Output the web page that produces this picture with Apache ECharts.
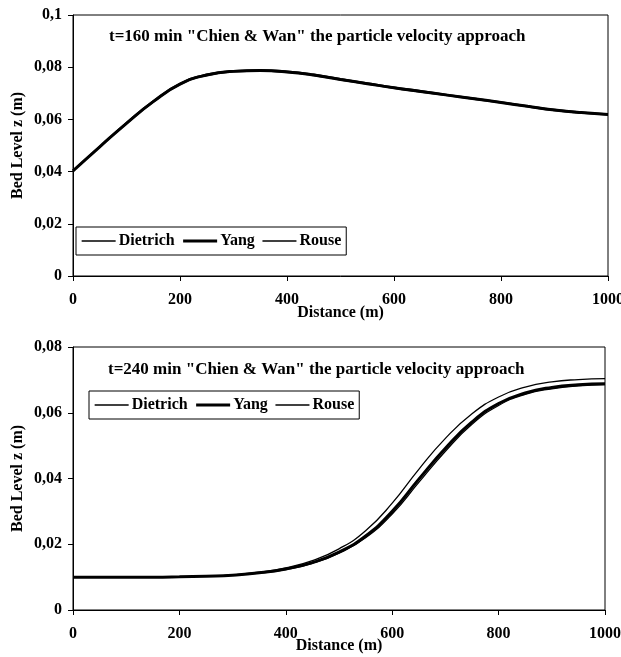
<!DOCTYPE html>
<html>
<head>
<meta charset="utf-8">
<script src="https://cdn.jsdelivr.net/npm/echarts@6/dist/echarts.min.js"></script>
<style>html,body{margin:0;padding:0;background:#fff;}#c{width:621px;height:657px;}</style>
</head>
<body>
<div id="c"></div>
<script>
var distance = [0,50,100,150,200,250,300,350,400,450,500,550,600,650,700,750,800,850,900,950,1000];
var xTicks = [0,200,400,600,800,1000];

// t = 160 min
var top_dietrich = [0.0404,0.0497,0.0588,0.0671,0.0738,0.0773,0.0787,0.0790,0.0785,0.0773,0.0756,0.0740,0.0724,0.0710,0.0695,0.0681,0.0667,0.0652,0.0638,0.0628,0.0621];
var top_yang     = [0.0403,0.0495,0.0585,0.0668,0.0735,0.0770,0.0784,0.0787,0.0782,0.0770,0.0753,0.0737,0.0721,0.0707,0.0693,0.0679,0.0665,0.0650,0.0636,0.0626,0.0619];
var top_rouse    = [0.0402,0.0494,0.0583,0.0666,0.0733,0.0768,0.0782,0.0785,0.0780,0.0768,0.0751,0.0735,0.0719,0.0705,0.0691,0.0677,0.0663,0.0648,0.0634,0.0624,0.0617];

// t = 240 min
var bot_dietrich = [0.0100,0.0100,0.0100,0.0100,0.0101,0.0103,0.0107,0.0115,0.0128,0.0150,0.0186,0.0241,0.0325,0.0428,0.0522,0.0597,0.0648,0.0678,0.0694,0.0701,0.0704];
var bot_yang     = [0.0100,0.0100,0.0100,0.0100,0.0101,0.0103,0.0106,0.0113,0.0125,0.0144,0.0176,0.0225,0.0300,0.0398,0.0492,0.0572,0.0628,0.0660,0.0677,0.0685,0.0688];
var bot_rouse    = [0.0100,0.0100,0.0100,0.0100,0.0101,0.0103,0.0106,0.0112,0.0123,0.0142,0.0173,0.0220,0.0292,0.0388,0.0483,0.0565,0.0622,0.0656,0.0673,0.0682,0.0686];

var names = ['Dietrich','Yang','Rouse'];
var lineWidths = [1.3, 3, 1.3];
var titles = ['t=160 min "Chien & Wan" the particle velocity approach','t=240 min "Chien & Wan" the particle velocity approach'];

function pairs(xs, ys){ return xs.map(function(x,i){ return [x, ys[i]]; }); }
function yfmt(v){ if (v === 0) return '0'; return String(+v.toFixed(3)).replace('.', ','); }
function xfmt(v){ return String(v); }

var FONT = 'Liberation Serif';
var txt = {color:'#000', fontFamily:FONT, fontWeight:'bold', fontSize:16};

function xAxis(gi){
  return {type:'value', gridIndex:gi, min:0, max:1000, interval:200,
    name:'Distance (m)', nameLocation:'middle', nameGap: gi===0?29:28, nameMoveOverlap:false,
    nameTextStyle:{color:'#000', fontFamily:FONT, fontWeight:'bold', fontSize:16},
    axisLine:{lineStyle:{color:'#000', width:1}},
    axisTick:{show:true, inside:false, length:5, lineStyle:{color:'#000'}},
    axisLabel:Object.assign({margin:16, formatter:xfmt}, txt),
    splitLine:{show:false}};
}
function yAxis(gi, max){
  return {type:'value', gridIndex:gi, min:0, max:max, interval:0.02,
    name:'Bed Level z (m)', nameLocation:'middle', nameGap:47, nameRotate:90, nameMoveOverlap:false,
    nameTextStyle:{color:'#000', fontFamily:FONT, fontWeight:'bold', fontSize:16},
    axisLine:{lineStyle:{color:'#000', width:1}},
    axisTick:{show:true, inside:false, length:5, lineStyle:{color:'#000'}},
    axisLabel:Object.assign({margin:11, formatter:yfmt}, txt),
    splitLine:{show:false}};
}
function ser(name, gi, data, w){
  return {name:name, type:'line', xAxisIndex:gi, yAxisIndex:gi, data:pairs(distance, data),
    smooth:true, symbol:'none', lineStyle:{color:'#000', width:w}, itemStyle:{color:'#000'}, z: w>2?2:3};
}
function legend(left, top){
  return {show:true,
    data:names.map(function(n,i){ return {name:n, lineStyle:{width:lineWidths[i], color:'#000'}}; }),
    left:left, top:top, orient:'horizontal',
    itemWidth:34, itemHeight:12, itemGap:7,
    itemStyle:{opacity:0, borderWidth:0},
    borderColor:'#000', borderWidth:1, padding:[6,5,6,5],
    textStyle:{color:'#000', fontFamily:FONT, fontWeight:'bold', fontSize:16, padding:[0,0,0,-2]},
    selectedMode:false};
}

var chart = echarts.init(document.getElementById('c'));
chart.setOption({
  backgroundColor:'#fff',
  animation:false,
  title:[
    {text:titles[0], left:104, top:23, textStyle:{color:'#000', fontFamily:FONT, fontWeight:'bold', fontSize:17}},
    {text:titles[1], left:103, top:356, textStyle:{color:'#000', fontFamily:FONT, fontWeight:'bold', fontSize:17}}
  ],
  legend:[legend(76,227), legend(89,391)],
  grid:[
    {left:73, right:13, top:15, height:261, outerBoundsMode:'none', containLabel:false, show:true, borderColor:'#000', borderWidth:1, backgroundColor:'transparent'},
    {left:73, right:16, top:347, height:263, outerBoundsMode:'none', containLabel:false, show:true, borderColor:'#000', borderWidth:1, backgroundColor:'transparent'}
  ],
  xAxis:[xAxis(0), xAxis(1)],
  yAxis:[yAxis(0,0.1), yAxis(1,0.08)],
  series:[
    ser('Dietrich',0,top_dietrich,lineWidths[0]), ser('Yang',0,top_yang,lineWidths[1]), ser('Rouse',0,top_rouse,lineWidths[2]),
    ser('Dietrich',1,bot_dietrich,lineWidths[0]), ser('Yang',1,bot_yang,lineWidths[1]), ser('Rouse',1,bot_rouse,lineWidths[2])
  ]
});
</script>
</body>
</html>
